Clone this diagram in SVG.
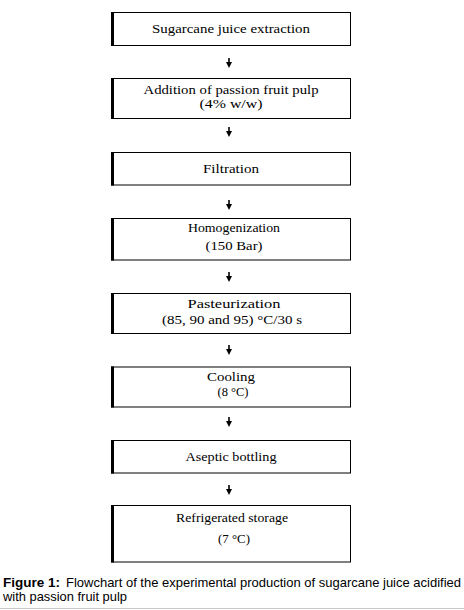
<svg xmlns="http://www.w3.org/2000/svg" width="464" height="610" viewBox="0 0 464 610">
<style>
.box{fill:#fff;stroke:#000;stroke-width:1}
.edge{fill:#000}
.t{font-family:"Liberation Serif","Times New Roman",serif;font-size:12.5px;fill:#000;text-anchor:middle}
.cap{font-family:"Liberation Sans",Arial,sans-serif;font-size:13px;fill:#000}
.conn{stroke:#000;stroke-width:1.6;marker-end:url(#ah)}
</style>
<defs>
<marker id="ah" viewBox="0 0 10 10" refX="0" refY="5" markerWidth="6" markerHeight="8" markerUnits="userSpaceOnUse" orient="auto">
<path d="M0,0 L10,5 L0,10 z" fill="#000"/>
</marker>
</defs>
<rect width="464" height="610" fill="#fff"/>
<g id="n1">
<rect class="box" x="111.5" y="12.5" width="239" height="33"/>
<rect class="edge" x="111" y="12" width="3" height="34"/>
<text class="t" x="231" y="33" textLength="158" lengthAdjust="spacingAndGlyphs">Sugarcane juice extraction</text>
</g>
<g id="n2">
<rect class="box" x="111.5" y="78.5" width="239" height="40"/>
<rect class="edge" x="111" y="78" width="3" height="41"/>
<text class="t" x="231" y="93.5" textLength="175" lengthAdjust="spacingAndGlyphs">Addition of passion fruit pulp</text>
<text class="t" x="231" y="107.5" textLength="63" lengthAdjust="spacingAndGlyphs">(4% w/w)</text>
</g>
<g id="n3">
<rect class="box" x="111.5" y="152.5" width="239" height="32.5"/>
<rect class="edge" x="111" y="152" width="3" height="33.5"/>
<text class="t" x="231" y="173" textLength="56" lengthAdjust="spacingAndGlyphs">Filtration</text>
</g>
<g id="n4">
<rect class="box" x="111.5" y="218.5" width="239" height="41.5"/>
<rect class="edge" x="111" y="218" width="3" height="42.5"/>
<text class="t" x="234" y="232" textLength="92" lengthAdjust="spacingAndGlyphs">Homogenization</text>
<text class="t" x="234" y="250" textLength="57" lengthAdjust="spacingAndGlyphs">(150 Bar)</text>
</g>
<g id="n5">
<rect class="box" x="111.5" y="293.5" width="239" height="40"/>
<rect class="edge" x="111" y="293" width="3" height="41"/>
<text class="t" x="234" y="308" textLength="93" lengthAdjust="spacingAndGlyphs">Pasteurization</text>
<text class="t" x="232" y="324" textLength="140" lengthAdjust="spacingAndGlyphs">(85, 90 and 95) °C/30 s</text>
</g>
<g id="n6">
<rect class="box" x="111.5" y="367" width="239" height="40"/>
<rect class="edge" x="111" y="366.5" width="3" height="41"/>
<text class="t" x="231" y="381" textLength="48" lengthAdjust="spacingAndGlyphs">Cooling</text>
<text class="t" x="233" y="395.5" textLength="31" lengthAdjust="spacingAndGlyphs">(8 °C)</text>
</g>
<g id="n7">
<rect class="box" x="111.5" y="440.5" width="239" height="32.5"/>
<rect class="edge" x="111" y="440" width="3" height="33.5"/>
<text class="t" x="231" y="461" textLength="91" lengthAdjust="spacingAndGlyphs">Aseptic bottling</text>
</g>
<g id="n8">
<rect class="box" x="111.5" y="505.5" width="239" height="56.5"/>
<rect class="edge" x="111" y="505" width="3" height="57.5"/>
<text class="t" x="232" y="522" textLength="112" lengthAdjust="spacingAndGlyphs">Refrigerated storage</text>
<text class="t" x="234" y="543" textLength="32" lengthAdjust="spacingAndGlyphs">(7 °C)</text>
</g>
<g id="connectors">
<line class="conn" x1="229" y1="58" x2="229" y2="62"/>
<line class="conn" x1="229" y1="127" x2="229" y2="131"/>
<line class="conn" x1="229" y1="200" x2="229" y2="204"/>
<line class="conn" x1="229" y1="272" x2="229" y2="276"/>
<line class="conn" x1="229" y1="345" x2="229" y2="349"/>
<line class="conn" x1="229" y1="417" x2="229" y2="421"/>
<line class="conn" x1="229" y1="485" x2="229" y2="489"/>
</g>
<g id="caption">
<text class="cap" x="3" y="587" font-weight="bold" textLength="57" lengthAdjust="spacingAndGlyphs">Figure 1:</text>
<text class="cap" x="66" y="587" textLength="395" lengthAdjust="spacingAndGlyphs">Flowchart of the experimental production of sugarcane juice acidified</text>
<text class="cap" x="3" y="601" textLength="124" lengthAdjust="spacingAndGlyphs">with passion fruit pulp</text>
</g>
<line x1="0" y1="608.5" x2="464" y2="608.5" stroke="#c8c8c8" stroke-width="1"/>
</svg>
